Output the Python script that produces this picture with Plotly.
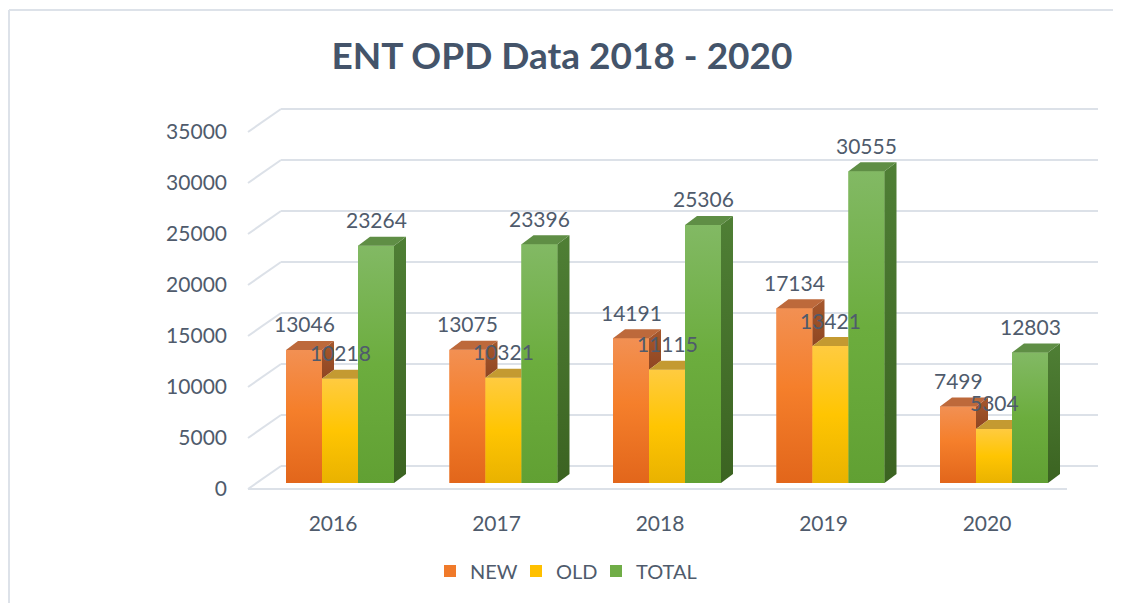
import plotly.graph_objects as go

# ---------------- data ----------------
years = ["2016", "2017", "2018", "2019", "2020"]
series_names = ["NEW", "OLD", "TOTAL"]
new_vals = [13046, 13075, 14191, 17134, 7499]
old_vals = [10218, 10321, 11115, 13421, 5304]
total_vals = [23264, 23396, 25306, 30555, 12803]
y_ticks = [0, 5000, 10000, 15000, 20000, 25000, 30000, 35000]

# ---------------- styles ----------------
TEXT = "#4F5B6C"
TITLE_C = "#44546A"
GRID = "#DCE1E8"
FONT = "Lato"
front_main = ["#F07A2A", "#FFC000", "#70AD47"]
front_grad = [
    [[0, "#E2661B"], [0.55, "#F57F2B"], [1, "#F29053"]],
    [[0, "#E9B200"], [0.5, "#FFC502"], [1, "#FFCB40"]],
    [[0, "#61A033"], [0.5, "#6CAD3E"], [1, "#82B964"]],
]
side_grad = [
    [[0, "#8F4622"], [1, "#A6582D"]],
    [[0, "#A87F10"], [1, "#BC912A"]],
    [[0, "#3B6321"], [1, "#4F7F35"]],
]
top_col = ["#BD693B", "#C49A31", "#5F8E45"]

# ---------------- pixel geometry (page coordinates) ----------------
W, H = 1121, 603
PAGE_OFF = 8  # body margin of the page that hosts the figure
PLOT_L, PLOT_R, PLOT_T, PLOT_B = 240, 1110, 100, 503
CAT0_PX, CAT_STEP_PX = 340, 163.5
BASE_PX, PX_PER_VAL = 483, 0.0102
LEGEND_SQ_PX = [444, 530, 610]  # left edge of each legend swatch
LEGEND_Y_PX = 571


def xd(px):
    return (px - CAT0_PX) / CAT_STEP_PX


def yd(py):
    return (BASE_PX - py) / PX_PER_VAL


BW = 36 / CAT_STEP_PX
OFFS = [-1.5 * BW, -0.5 * BW, 0.5 * BW]
DX = 12 / CAT_STEP_PX
DY = 9 / PX_PER_VAL
BACK_OFF = yd(466)
FRONT_OFF = yd(489)

series_vals = [new_vals, old_vals, total_vals]
xs = list(range(len(years)))
legend_ids = ["legend", "legend2", "legend3"]

fig = go.Figure()

# bar traces (front faces)
for s, name in enumerate(series_names):
    fig.add_trace(go.Bar(
        x=xs, y=series_vals[s], name=name, width=BW, offset=OFFS[s],
        marker=dict(color=front_main[s], line=dict(width=0)),
        hoverinfo="skip", legend=legend_ids[s],
    ))


def poly(px_, py_, **kw):
    fig.add_trace(go.Scatter(
        x=px_ + [px_[0]], y=py_ + [py_[0]], fill="toself", mode="lines",
        line=dict(width=0), showlegend=False, hoverinfo="skip", **kw))


# 3D shading faces derived from the bar values
for i in xs:
    for s in range(3):
        v = series_vals[s][i]
        xl = i + OFFS[s]
        xr = xl + BW
        poly([xl, xr, xr, xl], [0, 0, v, v],
             fillgradient=dict(type="vertical", colorscale=front_grad[s]))
        nxt = series_vals[s + 1][i] if s < 2 else None
        if nxt is None or nxt < v:
            lo = nxt if nxt is not None else 0
            poly([xr, xr, xr + DX, xr + DX], [lo, v, v + DY, lo + DY],
                 fillgradient=dict(type="vertical", colorscale=side_grad[s]))
            poly([xl, xr, xr + DX, xl + DX], [v, v, v + DY, v + DY],
                 fillcolor=top_col[s])
        else:
            poly([xl, xr, xr, xl + DX], [v, v, v + DY, v + DY],
                 fillcolor=top_col[s])

# data labels
annotations = []
for s in range(3):
    for i in xs:
        v = series_vals[s][i]
        annotations.append(dict(
            x=i + OFFS[s] + BW / 2, y=v, xref="x", yref="y", yshift=26,
            text=str(v), showarrow=False, yanchor="middle",
            font=dict(family=FONT, size=21, color=TEXT)))

# back wall / side wall gridlines and floor
shapes = []
for v in y_ticks:
    shapes.append(dict(type="line", xref="x", yref="y", layer="below",
                       x0=xd(281), x1=xd(1098), y0=v + BACK_OFF, y1=v + BACK_OFF,
                       line=dict(color=GRID, width=2)))
    shapes.append(dict(type="line", xref="x", yref="y", layer="below",
                       x0=xd(248), x1=xd(281), y0=v + FRONT_OFF, y1=v + BACK_OFF,
                       line=dict(color=GRID, width=2)))
shapes.append(dict(type="line", xref="x", yref="y", layer="below",
                   x0=xd(248), x1=xd(1067), y0=FRONT_OFF, y1=FRONT_OFF,
                   line=dict(color=GRID, width=2)))

# outer frame
PW = PLOT_R - PLOT_L
PH = PLOT_B - PLOT_T


def pxp(px):
    return (px - PLOT_L) / PW


def pyp(py):
    return (PLOT_B - py) / PH


shapes.append(dict(type="line", xref="paper", yref="paper",
                   x0=pxp(9), x1=pxp(W + 20), y0=pyp(10), y1=pyp(10),
                   line=dict(color="#DDE2E9", width=2)))
shapes.append(dict(type="line", xref="paper", yref="paper",
                   x0=pxp(9), x1=pxp(9), y0=pyp(10), y1=pyp(H + 20),
                   line=dict(color="#DDE2E9", width=2)))

legend_layout = {}
for s, lid in enumerate(legend_ids):
    legend_layout[lid] = dict(
        orientation="h", xref="container", yref="container",
        x=(LEGEND_SQ_PX[s] - 14 - PAGE_OFF) / W, xanchor="left",
        y=1 - (LEGEND_Y_PX - PAGE_OFF) / H, yanchor="middle",
        font=dict(family=FONT, size=20, color=TEXT),
        bgcolor="rgba(0,0,0,0)",
        itemclick=False, itemdoubleclick=False)

fig.update_layout(
    width=W, height=H, autosize=False,
    margin=dict(l=PLOT_L - PAGE_OFF, r=W - PLOT_R + PAGE_OFF,
                t=PLOT_T - PAGE_OFF, b=H - PLOT_B + PAGE_OFF, pad=0),
    paper_bgcolor="white", plot_bgcolor="rgba(0,0,0,0)",
    barmode="overlay",
    title=dict(text="ENT OPD Data 2018 - 2020", x=(562 - PAGE_OFF) / W, xref="container",
               xanchor="center", y=1 - (56.5 - PAGE_OFF) / H, yref="container",
               yanchor="middle",
               font=dict(family=FONT, size=37, color=TITLE_C, weight=700)),
    xaxis=dict(range=[xd(PLOT_L), xd(PLOT_R)], tickvals=xs, ticktext=years,
               showgrid=False, zeroline=False, showline=False, ticks="",
               ticklabelshift=-7, ticklabelstandoff=6,
               tickfont=dict(family=FONT, size=21, color=TEXT), fixedrange=True),
    yaxis=dict(range=[yd(PLOT_B), yd(PLOT_T)], tickvals=y_ticks,
               ticktext=[str(t) for t in y_ticks],
               showgrid=False, zeroline=False, showline=False, ticks="",
               ticklabelshift=6, ticklabelstandoff=12,
               tickfont=dict(family=FONT, size=21, color=TEXT), fixedrange=True),
    shapes=shapes, annotations=annotations,
    showlegend=True,
    **legend_layout,
)

fig.write_html("out.html")
